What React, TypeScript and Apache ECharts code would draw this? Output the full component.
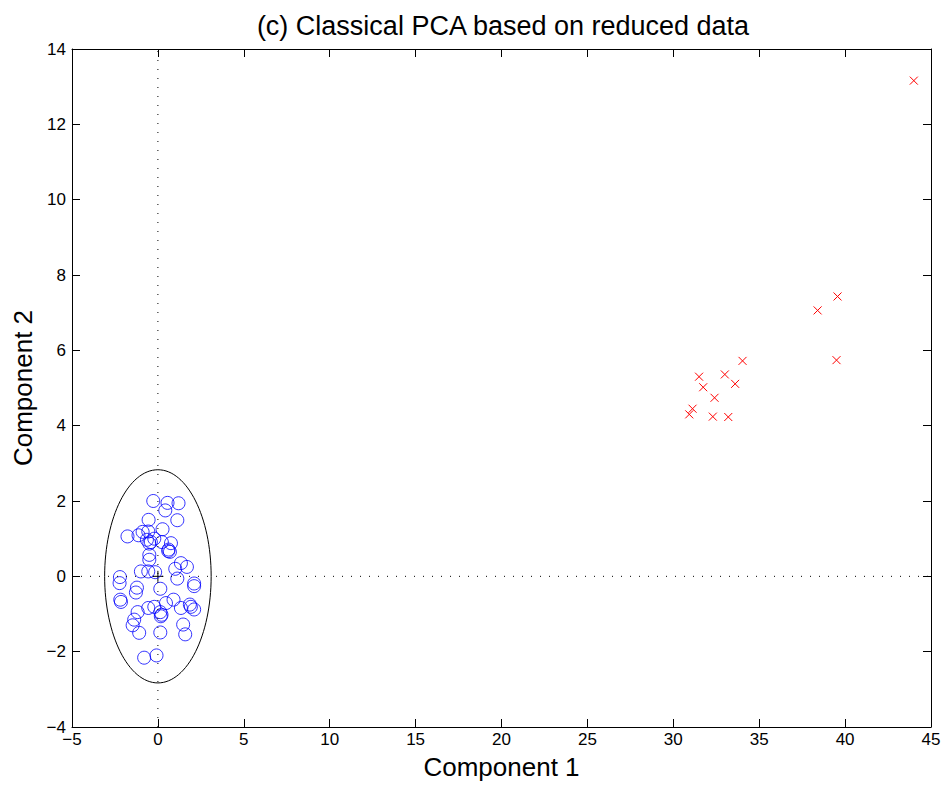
import React, { useEffect, useRef } from "react";
import * as echarts from "echarts";

const titleText = "(c) Classical PCA based on reduced data";
const xName = "Component 1";
const yName = "Component 2";

const xMin = -5, xMax = 45, xStep = 5;
const yMin = -4, yMax = 14, yStep = 2;

// blue circles: regular observations
const regularPoints: [number, number][] = [
  [-0.27, 2.0], [0.56, 1.95], [1.2, 1.94], [0.43, 1.75], [-0.54, 1.5], [1.13, 1.49],
  [0.27, 1.25], [-1.77, 1.06], [-1.13, 1.09], [-0.89, 1.18], [-0.56, 1.19], [-0.64, 0.97],
  [-0.41, 0.91], [-0.5, 0.87], [-0.21, 1.0], [0.23, 0.91], [0.76, 0.88], [0.62, 0.71],
  [0.7, 0.65], [0.6, 0.67], [-0.5, 0.57], [-0.5, 0.44], [1.34, 0.35], [1.69, 0.25],
  [1.01, 0.2], [-0.99, 0.13], [-0.56, 0.13], [-0.16, 0.11], [-2.21, -0.02], [-2.23, -0.18],
  [1.13, -0.06], [2.11, -0.19], [2.11, -0.26], [0.14, -0.33], [-1.22, -0.3], [-1.28, -0.43],
  [-2.19, -0.62], [-2.15, -0.68], [0.91, -0.62], [0.47, -0.71], [-0.56, -0.84], [-0.21, -0.81],
  [1.34, -0.84], [1.86, -0.75], [1.92, -0.81], [2.11, -0.88], [-1.18, -0.95], [0.14, -0.95],
  [0.21, -1.02], [0.17, -1.06], [-1.38, -1.15], [-1.47, -1.3], [1.47, -1.28], [1.59, -1.54],
  [-1.09, -1.5], [0.14, -1.49], [-0.8, -2.16], [-0.08, -2.1],
];

// red crosses: outliers
const outlierPoints: [number, number][] = [
  [44.0, 13.16], [39.56, 7.43], [38.4, 7.06], [39.5, 5.74], [34.03, 5.72], [31.5, 5.3],
  [33.0, 5.36], [33.6, 5.11], [31.74, 5.02], [32.4, 4.74], [31.12, 4.45], [30.93, 4.3],
  [32.3, 4.24], [33.2, 4.23],
];

// tolerance ellipse: centre x, centre y, semi-axis x, semi-axis y
const ellipseParams: [number, number, number, number][] = [[0, 0, 3.1, 2.83]];
const centre: [number, number][] = [[0, 0]];

const FONT = "'Liberation Sans', Arial, Helvetica, sans-serif";
const fmt = (v: number) => (v < 0 ? "\u2212" + Math.abs(v) : String(v));

export default function App() {
  const ref = useRef<HTMLDivElement>(null);
  useEffect(() => {
    if (!ref.current) return;
    const chart = echarts.init(ref.current, null, { renderer: "svg" });
    const axisLine = { show: true, onZero: false, lineStyle: { color: "#000", width: 1 } };
    const tick = { show: true, inside: true, length: 8, lineStyle: { color: "#000", width: 1 } };
    const label = { color: "#000", fontSize: 17, fontFamily: FONT, formatter: fmt };
    const dotted = { color: "#000", width: 1, type: [1, 8] as number[] };
    const noHover = { disabled: true };
    const crossItem = (half: number, color: string, diag: boolean) => (_p: any, api: any) => {
      const c = api.coord([api.value(0), api.value(1)]);
      const st = { stroke: color, lineWidth: 1 };
      const l1 = diag
        ? { x1: c[0] - half, y1: c[1] - half, x2: c[0] + half, y2: c[1] + half }
        : { x1: c[0] - half, y1: c[1], x2: c[0] + half, y2: c[1] };
      const l2 = diag
        ? { x1: c[0] - half, y1: c[1] + half, x2: c[0] + half, y2: c[1] - half }
        : { x1: c[0], y1: c[1] - half, x2: c[0], y2: c[1] + half };
      return {
        type: "group",
        children: [
          { type: "line", shape: l1, style: st },
          { type: "line", shape: l2, style: st },
        ],
      };
    };
    chart.setOption({
      animation: false,
      backgroundColor: "#fff",
      title: {
        text: titleText,
        left: 498,
        top: 7,
        textAlign: "center",
        textStyle: { fontSize: 27, fontWeight: "normal", color: "#000", fontFamily: FONT },
      },
      grid: { left: 72, right: 13, top: 49, bottom: 58, containLabel: false },
      xAxis: [
        {
          type: "value", min: xMin, max: xMax, interval: xStep, position: "bottom",
          name: xName, nameLocation: "middle", nameGap: 27,
          nameTextStyle: { fontSize: 26, color: "#000", fontFamily: FONT },
          axisLine, axisTick: tick, axisLabel: { ...label, margin: 4 }, splitLine: { show: false },
        },
        {
          type: "value", min: xMin, max: xMax, interval: xStep, position: "top",
          axisLine, axisTick: tick, axisLabel: { show: false }, splitLine: { show: false },
        },
      ],
      yAxis: [
        {
          type: "value", min: yMin, max: yMax, interval: yStep, position: "left",
          name: yName, nameLocation: "middle", nameGap: 36,
          nameTextStyle: { fontSize: 26, color: "#000", fontFamily: FONT },
          axisLine, axisTick: tick, axisLabel: { ...label, margin: 6 }, splitLine: { show: false },
        },
        {
          type: "value", min: yMin, max: yMax, interval: yStep, position: "right",
          axisLine, axisTick: tick, axisLabel: { show: false }, splitLine: { show: false },
        },
      ],
      series: [
        {
          type: "line", data: [[0, yMin], [0, yMax]], symbol: "none",
          lineStyle: dotted, silent: true, emphasis: noHover,
        },
        {
          type: "line", data: [[xMin, 0], [xMax, 0]], symbol: "none",
          lineStyle: dotted, silent: true, emphasis: noHover,
        },
        {
          type: "custom",
          data: ellipseParams,
          renderItem: (_params: any, api: any) => {
            const c = api.coord([api.value(0), api.value(1)]);
            const s = api.size([api.value(2), api.value(3)]);
            return {
              type: "ellipse",
              shape: { cx: c[0], cy: c[1], rx: s[0], ry: s[1] },
              style: { fill: "none", stroke: "#000", lineWidth: 1 },
            };
          },
          silent: true,
        },
        {
          type: "scatter", data: regularPoints, symbol: "circle", symbolSize: 13,
          silent: true, emphasis: noHover,
          itemStyle: { color: "rgba(0,0,0,0)", borderColor: "#0000ff", borderWidth: 1 },
        },
        {
          type: "custom", data: centre, silent: true,
          renderItem: crossItem(5.5, "#000", false),
        },
        {
          type: "custom", data: outlierPoints, silent: true,
          renderItem: crossItem(4, "#ff0000", true),
        },
      ],
    });
    return () => chart.dispose();
  }, []);
  return (
    <div
      ref={ref}
      style={{ position: "fixed", left: 0, top: 0, width: 944, height: 785 }}
    />
  );
}
